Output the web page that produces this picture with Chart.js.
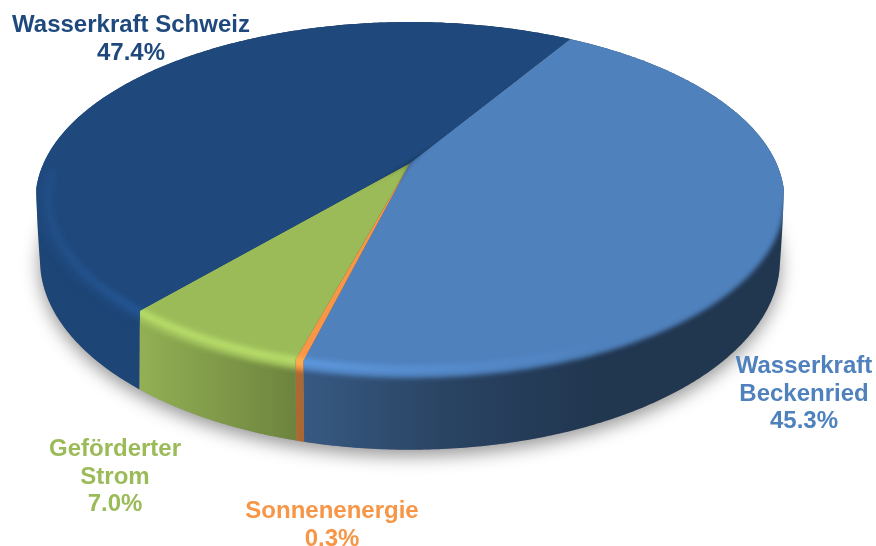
<!DOCTYPE html>
<html>
<head>
<meta charset="utf-8">
<title>Strommix</title>
<script src="https://cdn.jsdelivr.net/npm/chart.js@4"></script>
<style>
  html, body { margin: 0; padding: 0; background: #fff; }
  canvas { display: block; }
</style>
</head>
<body>
<canvas id="grafico" width="876" height="546"></canvas>
<script>
// Chart values
const categories = ["Wasserkraft Beckenried", "Sonnenenergie", "Geförderter Strom", "Wasserkraft Schweiz"];
const shares = [45.3, 0.3, 7.0, 47.4];
const labelLines = [["Wasserkraft", "Beckenried"], ["Sonnenenergie"], ["Geförderter", "Strom"], ["Wasserkraft Schweiz"]];
const colors = ["#4f81bd", "#f79646", "#9bbb59", "#1f497d"];

// Label anchors: centre x and first baseline y
const labelAnchors = [[804, 373], [332, 518], [115, 456], [131, 32]];

// Perspective of the disc (top face and lower edge)
const topFace = { x: 410, y: 163, rx: 366.3, ry: 170.3, tilt: 0.208 };
const lowerEdge = { x: 410, y: 228, rx: 364.8, ry: 184.7, tilt: 0.167 };

const project = (face, angle, r = 1) => {
    const cx = r * Math.cos(angle), cy = r * Math.sin(angle);
    const w = 1 - face.tilt * cy;
    return [face.x + face.rx * cx / w, face.y + face.ry * cy / w];
};

// 0 at the back of the disc, 1 at the front
const frontness = (angle) => Math.min(1, Math.max(0, (Math.sin(angle) - 0.19) * 12 + 0.5));

// Where the side wall starts: the bevel sits a little inside the rim at the front
const wallTop = (angle) => project(topFace, angle, 1 - 0.035 * frontness(angle));

const outerPoint = (angle) => {
    const t = frontness(angle);
    const a = project(topFace, angle), b = project(lowerEdge, angle);
    return [a[0] + (b[0] - a[0]) * t, a[1] + (b[1] - a[1]) * t];
};

const sampleAngles = (from, to) => {
    const n = Math.max(2, Math.ceil((to - from) / 0.01));
    const out = [];
    for (let i = 0; i <= n; i++) out.push(from + (to - from) * i / n);
    return out;
};

const tracePoints = (ctx, pts) => {
    ctx.beginPath();
    pts.forEach((p, i) => i ? ctx.lineTo(p[0], p[1]) : ctx.moveTo(p[0], p[1]));
    ctx.closePath();
};

const toRgb = (hex) => {
    const n = parseInt(hex.slice(1), 16);
    return [n >> 16, (n >> 8) & 255, n & 255];
};

const scaleRgb = (hex, f) => toRgb(hex).map((c) => Math.min(255, Math.round(c * f)));

const rgba = (c, a = 1) => `rgba(${c[0]},${c[1]},${c[2]},${a})`;

// Shading of the side wall and the rim from left to right
const sideShade = [[36, 0.94], [140, 0.94], [305, 0.69], [450, 0.52], [600, 0.42], [785, 0.42]];
const rimGlow = [[36, 0.3], [140, 0.8], [300, 0.8], [480, 0.3], [610, 0]];

const horizontalGradient = (ctx, stops, colorAt) => {
    const grad = ctx.createLinearGradient(36, 0, 785, 0);
    stops.forEach(([x, v]) => grad.addColorStop((x - 36) / 749, colorAt(v)));
    return grad;
};

const disc3d = {
    id: "disc3d",
    beforeDatasetsDraw(chart) {
        const ctx = chart.ctx;
        const arcs = chart.getDatasetMeta(0).data;
        const apex = [topFace.x, topFace.y];

        // Soft shadow under the disc
        ctx.save();
        ctx.shadowColor = "rgba(0,0,0,0.42)";
        ctx.shadowBlur = 18;
        ctx.shadowOffsetY = 6;
        ctx.fillStyle = "#888";
        tracePoints(ctx, sampleAngles(0, Math.PI * 2).map((a) => project(lowerEdge, a)));
        ctx.fill();
        ctx.restore();

        arcs.forEach((arc) => {
            const a1 = arc.startAngle, a2 = arc.endAngle;
            const base = arc.options.backgroundColor;
            const region = [apex, wallTop(a1),
                ...sampleAngles(a1, a2).map(outerPoint),
                wallTop(a2)];

            ctx.save();
            tracePoints(ctx, region);
            ctx.fillStyle = horizontalGradient(ctx, sideShade, (v) => rgba(scaleRgb(base, v)));
            ctx.fill();
            ctx.clip();

            // Top face, soft towards the side wall, hard on the slice edges
            const margin = 0.08;
            const fan = sampleAngles(a1 - margin, a2 + margin)
                .map((a) => project(topFace, a, 1 + 0.04 * (1 - frontness(a))));
            ctx.filter = "blur(2.5px)";
            tracePoints(ctx, [apex, ...fan]);
            ctx.fillStyle = base;
            ctx.fill();

            // Light rim along the front edge
            const from = Math.max(a1 - margin, -0.1), to = Math.min(a2 + margin, Math.PI - 0.05);
            if (to > from) {
                ctx.filter = "blur(3px)";
                ctx.beginPath();
                sampleAngles(from, to).map((a) => project(topFace, a, 0.968))
                    .forEach((p, j) => j ? ctx.lineTo(p[0], p[1]) : ctx.moveTo(p[0], p[1]));
                ctx.lineWidth = 6;
                const glow = scaleRgb(base, 1.3);
                ctx.strokeStyle = horizontalGradient(ctx, rimGlow, (v) => rgba(glow, v));
                ctx.stroke();
            }
            ctx.restore();
        });

        // Percent labels
        ctx.save();
        ctx.font = "bold 24px 'Liberation Sans', Arial, sans-serif";
        ctx.textAlign = "center";
        ctx.textBaseline = "alphabetic";
        arcs.forEach((arc, i) => {
            const lines = [...labelLines[i], shares[i].toFixed(1) + "%"];
            ctx.fillStyle = colors[i];
            lines.forEach((line, j) => ctx.fillText(line, labelAnchors[i][0], labelAnchors[i][1] + j * 27.5));
        });
        ctx.restore();

        return false;
    }
};

new Chart(document.getElementById("grafico").getContext("2d"), {
    type: "pie",
    data: {
        labels: categories,
        datasets: [{ data: shares, backgroundColor: colors, borderWidth: 0 }]
    },
    options: {
        responsive: false,
        animation: false,
        rotation: 31,
        plugins: { legend: { display: false }, tooltip: { enabled: false } }
    },
    plugins: [disc3d]
});
</script>
</body>
</html>
